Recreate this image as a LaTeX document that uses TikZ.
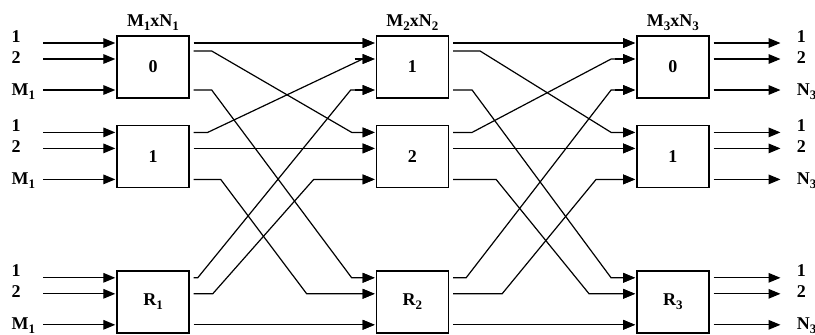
\documentclass[tikz,border=0pt]{standalone}
\usepackage{fontspec}
\setmainfont{Liberation Serif}
\usetikzlibrary{arrows.meta,positioning}
% lowered index as in the sketch
\newcommand\lowidx[1]{\raisebox{-2pt}{\fontsize{6.5}{7}\selectfont#1}}

\begin{document}
\begin{tikzpicture}[%
    x=0.5pt, y=-0.5pt,                        % one unit is one pixel of the sketch
    >={Triangle[length=6pt,width=4.8pt]},     % Solid arrow heads
    font=\bfseries\fontsize{9}{10}\selectfont,
    ]
% -------------------------------------------------
% A few styles for switches and wires
\tikzset{
  sbox/.style={draw, line width=0.7pt, minimum width=36pt, minimum height=31pt, inner sep=0pt},
  head/.style={inner sep=0pt},
  side/.style={anchor=base west, inner sep=0pt},
  feed/.style={->, line width=0.65pt, shorten >=0.5pt},
  wire/.style={->, line width=0.6pt, shorten <=2pt, shorten >=0.5pt},
}
\useasboundingbox (0,0) rectangle (815,334);
% -------------------------------------------------
% Start by placing the switches, stage by stage
\node [sbox] (a0) at (153,67) {0};
\node [sbox, below=13pt of a0] (a1) {1};
\node [sbox, below=41pt of a1] (aR) {R\lowidx{1}};
\node [sbox, right=93pt of a0] (b0) {1};
\node [sbox, right=93pt of a1] (b1) {2};
\node [sbox, right=93pt of aR] (bR) {R\lowidx{2}};
\node [sbox, right=93.5pt of b0] (c0) {0};
\node [sbox, right=93.5pt of b1] (c1) {1};
\node [sbox, right=93.5pt of bR] (cR) {R\lowidx{3}};

\node [head, above=2pt of a0] (ha) {M\lowidx{1}xN\lowidx{1}};
\node [head, above=2pt of b0] (hb) {M\lowidx{2}xN\lowidx{2}};
\node [head, above=2pt of c0] (hc) {M\lowidx{3}xN\lowidx{3}};

% Inputs of the first stage and outputs of the last one
\foreach \r in {0,1,R}{
  \foreach \o in {12pt,4pt,-11.5pt}{
    \draw[feed] ([xshift=-36.5pt,yshift=\o]a\r.west) -- ([yshift=\o]a\r.west);
    \draw[wire] ([yshift=\o]c\r.east) -- ([xshift=36pt,yshift=\o]c\r.east);
  }
  \foreach \t/\o/\n in {1/12.5pt/1, 2/2pt/2, M\lowidx{1}/-14pt/3}{
    \node [side] (la\r-\n) at ([xshift=-52.5pt,yshift=\o]a\r.west) {\t};
  }
  \foreach \t/\o/\n in {1/12.5pt/1, 2/2pt/2, N\lowidx{3}/-14pt/3}{
    \node [side] (lc\r-\n) at ([xshift=43.5pt,yshift=\o]c\r.east) {\t};
  }
}

% Input stubs of the middle and last stage
\foreach \s in {b,c}{
  \foreach \r in {0,1,R}{
    \foreach \o in {12pt,4pt,-11.5pt}{
      \draw[feed] ([xshift=-10.5pt,yshift=\o]\s\r.west) -- ([yshift=\o]\s\r.west);
    }
  }
}

% -------------------------------------------------
% First stage to middle stage
\draw[wire] ([yshift=12pt]a0.east) -- ([yshift=12pt]b0.west);		%a0,b0
\draw[wire] ([yshift=8pt]a0.east) -- ++(11pt,0) -- ([xshift=-12pt,yshift=12pt]b1.west) -- ([yshift=12pt]b1.west);		%a0,b1
\draw[wire] ([yshift=-11.5pt]a0.east) -- ++(11pt,0) -- ([xshift=-12pt,yshift=12pt]bR.west) -- ([yshift=12pt]bR.west);		%a0,bR
\draw[wire] ([yshift=12pt]a1.east) -- ++(9pt,0) -- ([xshift=-6.5pt,yshift=4pt]b0.west) -- ([yshift=4pt]b0.west);		%a1,b0
\draw[wire] ([yshift=4pt]a1.east) -- ([yshift=4pt]b1.west);		%a1,b1
\draw[wire] ([yshift=-11.5pt]a1.east) -- ++(15.5pt,0) -- ([xshift=-34.5pt,yshift=4pt]bR.west) -- ([yshift=4pt]bR.west);		%a1,bR
\draw[wire] ([yshift=12pt]aR.east) -- ++(4pt,0) -- ([xshift=-12.5pt,yshift=-11.5pt]b0.west) -- ([yshift=-11.5pt]b0.west);		%aR,b0
\draw[wire] ([yshift=4pt]aR.east) -- ++(11.5pt,0) -- ([xshift=-31pt,yshift=-11.5pt]b1.west) -- ([yshift=-11.5pt]b1.west);		%aR,b1
\draw[wire] ([yshift=-11.5pt]aR.east) -- ([yshift=-11.5pt]bR.west);		%aR,bR

% Middle stage to last stage
\draw[wire] ([yshift=12pt]b0.east) -- ([yshift=12pt]c0.west);		%b0,c0
\draw[wire] ([yshift=8pt]b0.east) -- ++(15.5pt,0) -- ([xshift=-12.5pt,yshift=12pt]c1.west) -- ([yshift=12pt]c1.west);		%b0,c1
\draw[wire] ([yshift=-11.5pt]b0.east) -- ++(11.5pt,0) -- ([xshift=-12.5pt,yshift=12pt]cR.west) -- ([yshift=12pt]cR.west);		%b0,cR
\draw[wire] ([yshift=12pt]b1.east) -- ++(11.5pt,0) -- ([xshift=-12.5pt,yshift=4pt]c0.west) -- ([yshift=4pt]c0.west);		%b1,c0
\draw[wire] ([yshift=4pt]b1.east) -- ([yshift=4pt]c1.west);		%b1,c1
\draw[wire] ([yshift=-11.5pt]b1.east) -- ++(23.5pt,0) -- ([xshift=-23.5pt,yshift=4pt]cR.west) -- ([yshift=4pt]cR.west);		%b1,cR
\draw[wire] ([yshift=12pt]bR.east) -- ++(8.5pt,0) -- ([xshift=-12.5pt,yshift=-11.5pt]c0.west) -- ([yshift=-11.5pt]c0.west);		%bR,c0
\draw[wire] ([yshift=4pt]bR.east) -- ++(26.5pt,0) -- ([xshift=-20pt,yshift=-11.5pt]c1.west) -- ([yshift=-11.5pt]c1.west);		%bR,c1
\draw[wire] ([yshift=-11.5pt]bR.east) -- ([yshift=-11.5pt]cR.west);		%bR,cR

% -------------------------------------------------
\end{tikzpicture}
\end{document}
